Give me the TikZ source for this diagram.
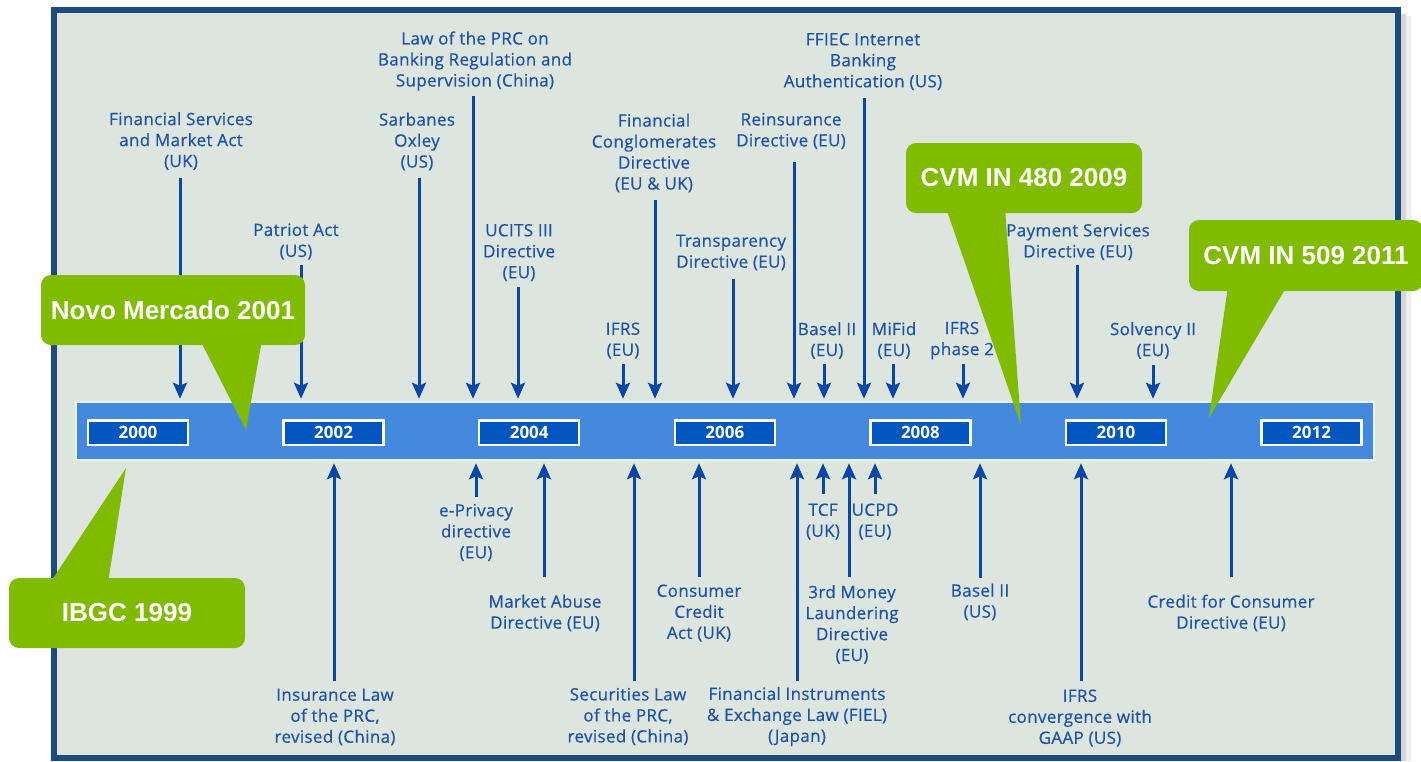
\documentclass[tikz,border=0pt]{standalone}
\usepackage{fontspec}
\setmainfont{Open Sans}
\newfontfamily\lblfont{Open Sans}[FakeBold=0.6,LetterSpace=2]
\newfontfamily\callfont{Liberation Sans}
\usetikzlibrary{arrows.meta}
\definecolor{frameblue}{RGB}{31,74,126}
\definecolor{bgc}{RGB}{220,230,222}
\definecolor{barblue}{RGB}{69,137,223}
\definecolor{yearblue}{RGB}{0,85,190}
\definecolor{txtblue}{RGB}{32,82,168}
\definecolor{arrblue}{RGB}{10,70,170}
\definecolor{cgreen}{RGB}{128,187,0}
\definecolor{barline}{RGB}{228,246,246}
\newcommand\topev[6]{\node[lbl] (#1) at (#3,#4+1.5) {#5};
  \draw[arr] (#2,#6) -- (#2,0 |- bar.north);}
\newcommand\botev[6]{\node[lbl] (#1) at (#3,#4+1.5) {#5};
  \draw[arr] (#2,#6) -- (#2,0 |- bar.south);}
\begin{document}
\begin{tikzpicture}[x=1pt,y=-1pt,
 lbl/.style={text=txtblue, font=\lblfont\fontsize{17}{21}\selectfont, align=center, inner sep=0pt},
 arr/.style={draw=arrblue, line width=3pt, shorten >=2pt, -{Stealth[length=16pt,width=14pt,inset=3pt]}},
 yearbox/.style={fill=yearblue, draw=white, line width=2.5pt, minimum width=100pt, minimum height=24.5pt, inner sep=0pt, text=white, font=\bfseries\fontsize{17}{17}\selectfont},
 callout/.style={fill=cgreen, rounded corners=10pt, text=white, font=\callfont\bfseries\fontsize{26}{26}\selectfont, inner sep=0pt, minimum height=70pt},
 pointer/.style={fill=cgreen},
]
\useasboundingbox (0,0) rectangle (1421,761);
% frame shadow
\fill[black!16] (1401,14) rectangle (1406,761);
\fill[black!7] (1406,16) rectangle (1411,761);
% frame
\draw[frameblue, line width=6pt, fill=bgc] (54,10) rectangle (1398,758);
% bar
\node[fill=barblue, draw=barline, line width=2.5pt, minimum width=1298pt, minimum height=58pt, inner sep=0pt] (bar) at (725,431) {};
% years
\foreach \y [count=\k from 0] in {2000,2002,2004,2006,2008,2010,2012}{
  \node[yearbox] (y\y) at (138+195.6*\k,432.5) {\y};
}
% top events
\topev{fsma}{180}{181}{139.5}{Financial Services\\and Market Act\\(UK)}{178}
\topev{pat}{301}{296}{240}{Patriot Act\\(US)}{265}
\topev{sox}{419}{417}{140}{Sarbanes\\Oxley\\(US)}{178}
\topev{lprc}{473}{475}{59.5}{Law of the PRC on\\Banking Regulation and\\Supervision (China)}{96}
\topev{ucits}{518}{519}{251}{UCITS III\\Directive\\(EU)}{287}
\topev{ifrs}{623}{623}{339}{IFRS\\(EU)}{364}
\topev{fcd}{655}{654}{151.5}{Financial\\Conglomerates\\Directive\\(EU \& UK)}{200}
\topev{trans}{733}{731}{251}{Transparency\\Directive (EU)}{279}
\topev{rein}{794}{791}{129.5}{Reinsurance\\Directive (EU)}{162}
\topev{baseleu}{824}{827}{339}{Basel II\\(EU)}{364}
\topev{ffiec}{864}{863}{60}{FFIEC Internet\\Banking\\Authentication (US)}{98}
\topev{mifid}{893}{894}{339}{MiFid\\(EU)}{364}
\topev{ifrstwo}{963}{962}{339}{IFRS\\phase 2}{364}
\topev{psd}{1077}{1078}{240.5}{Payment Services\\Directive (EU)}{265}
\topev{solv}{1153}{1153}{339}{Solvency II\\(EU)}{365}
% bottom events
\botev{ins}{334}{335}{715.5}{Insurance Law\\of the PRC,\\revised (China)}{681}
\botev{epriv}{476}{476}{531}{e-Privacy\\directive\\(EU)}{497}
\botev{mad}{544}{545}{611.5}{Market Abuse\\Directive (EU)}{577}
\botev{sec}{634}{628}{715}{Securities Law\\of the PRC,\\revised (China)}{681}
\botev{cca}{699}{699}{611.5}{Consumer\\Credit\\Act (UK)}{577}
\botev{fiel}{797}{797}{715}{Financial Instruments\\\& Exchange Law (FIEL)\\(Japan)}{681}
\botev{tcf}{823}{823}{520}{TCF\\(UK)}{494}
\botev{ml}{849}{852}{623}{3rd Money\\Laundering\\Directive\\(EU)}{577}
\botev{ucpd}{875}{875}{520}{UCPD\\(EU)}{494}
\botev{baselus}{980}{980}{600.5}{Basel II\\(US)}{578}
\botev{ifrsc}{1081}{1080}{716.5}{IFRS\\convergence with\\GAAP (US)}{681}
\botev{ccd}{1231}{1231}{611.5}{Credit for Consumer\\Directive (EU)}{577}
% callouts
\node[callout, minimum width=264pt] (nm) at (173,310) {Novo Mercado 2001};
\coordinate (nmtip) at (246,430);
\fill[pointer] (200,340) -- (nmtip) -- (262,340) -- cycle;
\node[callout, minimum width=236pt] (ibgc) at (127,613) {IBGC 1999};
\coordinate (ibgctip) at (126,468);
\fill[pointer] (50,583) -- (ibgctip) -- (108,583) -- cycle;
\node[callout, minimum width=236pt] (cvma) at (1024,178) {CVM IN 480 2009};
\coordinate (cvmatip) at (1021,425);
\fill[pointer] (946,208) -- (cvmatip) -- (1005,208) -- cycle;
\node[callout, minimum width=234pt, minimum height=71pt] (cvmb) at (1306,255.5) {CVM IN 509 2011};
\coordinate (cvmbtip) at (1209,418);
\fill[pointer] (1228,286) -- (cvmbtip) -- (1287,286) -- cycle;
\end{tikzpicture}
\end{document}
